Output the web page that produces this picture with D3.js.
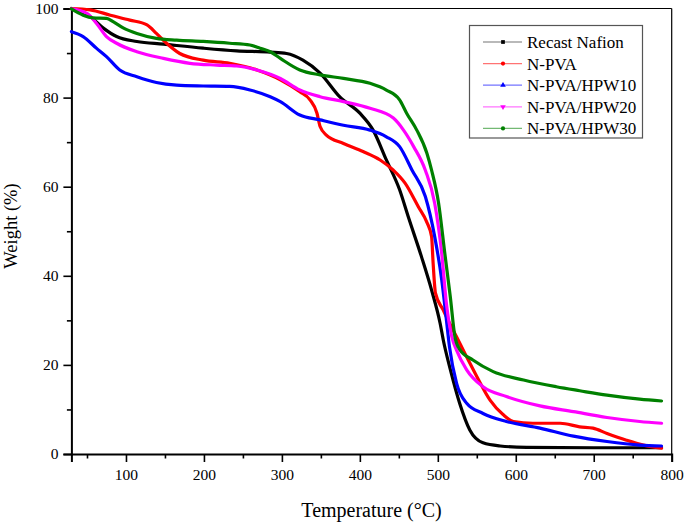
<!DOCTYPE html>
<html><head><meta charset="utf-8">
<script src="https://cdn.jsdelivr.net/npm/d3@7"></script>
<style>html,body{margin:0;padding:0;background:#fff;} svg{display:block;}</style>
</head><body>
<script>
const seriesNames = ["Recast Nafion","N-PVA","N-PVA/HPW10","N-PVA/HPW20","N-PVA/HPW30"];
const seriesColors = ["#000000","#ff0000","#0000ff","#ff00ff","#008000"];
const markerTypes = ["square","circle","triangle-up","triangle-down","circle"];

const recastNafion = [[30,100],[54,98.2],[71,95.6],[88,93.7],[114,92.6],[148,92.0],[199,91.1],[242,90.5],[285,90.2],[306,89.9],[327,88.4],[349,85.5],[374,80.2],[400,76.5],[417,72.7],[434,66],[451,59.3],[462,53.3],[479,44.3],[492,36.8],[503,29.3],[507,25.6],[516,19],[528,11.4],[541,5.4],[558,2.5],[580,1.8],[614,1.5],[700,1.4],[787,1.4]];
const nPVA = [[30,100],[54,99.7],[80,98.5],[105,97.4],[127,96.3],[139,94.4],[152,92.2],[169,89.9],[199,88.4],[233,87.7],[268,86.2],[298,84],[323,81.3],[336,79.5],[345,76.5],[349,73.5],[357,71.6],[379,69.7],[404,67.9],[426,66],[443,63.7],[458,60.8],[475,55.5],[486,52],[492,48.8],[494,42.8],[497,36.1],[507,32.3],[511,30.8],[524,26.3],[537,21.8],[550,17.4],[567,12.1],[584,8.8],[597,7.3],[622,6.9],[657,6.9],[682,6.1],[699,5.8],[717,4.6],[742,3.1],[764,2.0],[787,1.3]];
const nPVA_HPW10 = [[30,94.8],[45,93.7],[62,91.1],[75,89.2],[92,86.2],[114,84.7],[139,83.4],[165,82.8],[199,82.6],[233,82.5],[259,81.7],[285,80.2],[298,79.1],[323,76.1],[349,75],[379,73.8],[413,72.7],[434,71.2],[451,69],[467,63.7],[484,57.8],[496,48.8],[505,39.1],[511,30.1],[515,24],[524,15.9],[537,11.4],[558,9.1],[588,7.3],[631,5.8],[674,4.0],[717,2.8],[759,2.0],[787,1.8]];
const nPVA_HPW20 = [[30,99.9],[50,98.9],[62,96.7],[75,93.7],[88,92.2],[114,90.3],[148,88.8],[182,87.7],[216,87.3],[242,87.1],[268,86.2],[298,84.3],[323,81.7],[349,80.2],[379,79.1],[413,77.6],[443,75.4],[456,72.7],[469,69],[484,63.7],[496,56.3],[505,45],[511,33.8],[518,26.3],[524,23.3],[537,18.9],[558,15.1],[588,12.9],[631,10.8],[674,9.5],[717,8.2],[759,7.3],[787,6.9]];
const nPVA_HPW30 = [[30,99.9],[45,98.5],[58,97.9],[75,97.8],[84,97.0],[97,95.6],[114,94.4],[139,93.3],[165,92.9],[199,92.6],[233,92.2],[259,91.8],[272,91.1],[285,90.3],[298,88.8],[323,86.2],[349,85.1],[379,84.3],[413,83.2],[434,81.7],[451,79.5],[460,76.5],[473,72.7],[486,67.5],[492,63.7],[501,56.3],[509,45],[516,35.3],[522,26.3],[528,23.5],[545,21.1],[571,18.5],[610,16.6],[652,15.1],[682,14.2],[717,13.2],[759,12.3],[787,11.9]];
const seriesData = [recastNafion, nPVA, nPVA_HPW10, nPVA_HPW20, nPVA_HPW30];

const xMajorTicks = [100,200,300,400,500,600,700,800];
const xMinorTicks = [50,150,250,350,450,550,650,750];
const yMajorTicks = [0,20,40,60,80,100];
const yMinorTicks = [10,30,50,70,90];
const xTitle = "Temperature (°C)";
const yTitle = "Weight (%)";

(function () {
const W = 685, H = 523;
const pLeft = 71.4, pRight = 671.7, pTop = 8.5, pBottom = 454;
const FONT = "'Liberation Serif','Times New Roman',serif";

const svg = d3.select("body").append("svg").attr("width", W).attr("height", H);
const x = d3.scaleLinear().domain([30, 800]).range([pLeft, pRight]);
const y = d3.scaleLinear().domain([0, 100]).range([pBottom, pTop]);

// frame top/right
svg.append("line").attr("x1", pLeft).attr("x2", pRight).attr("y1", pTop).attr("y2", pTop).attr("stroke", "#000").attr("stroke-width", 1.2);
svg.append("line").attr("x1", pRight).attr("x2", pRight).attr("y1", pTop).attr("y2", pBottom).attr("stroke", "#000").attr("stroke-width", 1.2);

// axes
const xAxis = svg.append("g").attr("transform", `translate(0,${pBottom})`)
  .call(d3.axisBottom(x).tickValues(xMajorTicks).tickSize(8).tickPadding(7).tickFormat(d3.format("d")));
const xMinor = svg.append("g").attr("transform", `translate(0,${pBottom})`)
  .call(d3.axisBottom(x).tickValues(xMinorTicks).tickSize(4.5).tickFormat(""));
const yAxis = svg.append("g").attr("transform", `translate(${pLeft},0)`)
  .call(d3.axisLeft(y).tickValues(yMajorTicks).tickSize(8).tickPadding(5).tickFormat(d3.format("d")));
const yMinor = svg.append("g").attr("transform", `translate(${pLeft},0)`)
  .call(d3.axisLeft(y).tickValues(yMinorTicks).tickSize(4.5).tickFormat(""));

[xAxis, xMinor, yAxis, yMinor].forEach(g => {
  g.select(".domain").attr("stroke", "#000").attr("stroke-width", 2);
  g.selectAll(".tick line").attr("stroke", "#000").attr("stroke-width", 1.6);
  g.selectAll("text").attr("font-family", FONT).attr("font-size", 15.5).attr("fill", "#000");
});
xMinor.select(".domain").remove();
yMinor.select(".domain").remove();

// titles
svg.append("text").attr("x", (pLeft + pRight) / 2).attr("y", 516.5).attr("text-anchor", "middle")
  .attr("font-family", FONT).attr("font-size", 20).text(xTitle);
svg.append("text").attr("transform", `translate(16.5,226) rotate(-90)`).attr("text-anchor", "middle")
  .attr("font-family", FONT).attr("font-size", 18.5).text(yTitle);

// lines
const line = d3.line().x(d => x(d[0])).y(d => y(d[1])).curve(d3.curveMonotoneX);
const plot = svg.append("g");
seriesData.forEach((data, i) => {
  plot.append("path").datum(data).attr("d", line).attr("fill", "none")
    .attr("stroke", seriesColors[i]).attr("stroke-width", 3.2)
    .attr("stroke-linejoin", "round").attr("stroke-linecap", "round");
});

// legend
const lg = svg.append("g");
lg.append("rect").attr("x", 469.5).attr("y", 25.5).attr("width", 173).attr("height", 112.5)
  .attr("fill", "#fff").attr("stroke", "#555").attr("stroke-width", 1.2);
const symMap = {"square": d3.symbolSquare, "circle": d3.symbolCircle, "triangle-up": d3.symbolTriangle, "triangle-down": d3.symbolTriangle};
seriesNames.forEach((name, i) => {
  const cy = 42 + i * 21.6;
  lg.append("line").attr("x1", 483).attr("x2", 522).attr("y1", cy).attr("y2", cy)
    .attr("stroke", seriesColors[i]).attr("stroke-opacity", 0.55).attr("stroke-width", 1.2);
  const sym = d3.symbol().type(symMap[markerTypes[i]]).size(14);
  lg.append("path").attr("d", sym())
    .attr("transform", `translate(503,${cy})` + (markerTypes[i] === "triangle-down" ? " rotate(180)" : ""))
    .attr("fill", seriesColors[i]);
  lg.append("text").attr("x", 527).attr("y", cy).attr("dy", "0.35em")
    .attr("font-family", FONT).attr("font-size", 17).text(name);
});
})();
</script>
</body></html>
